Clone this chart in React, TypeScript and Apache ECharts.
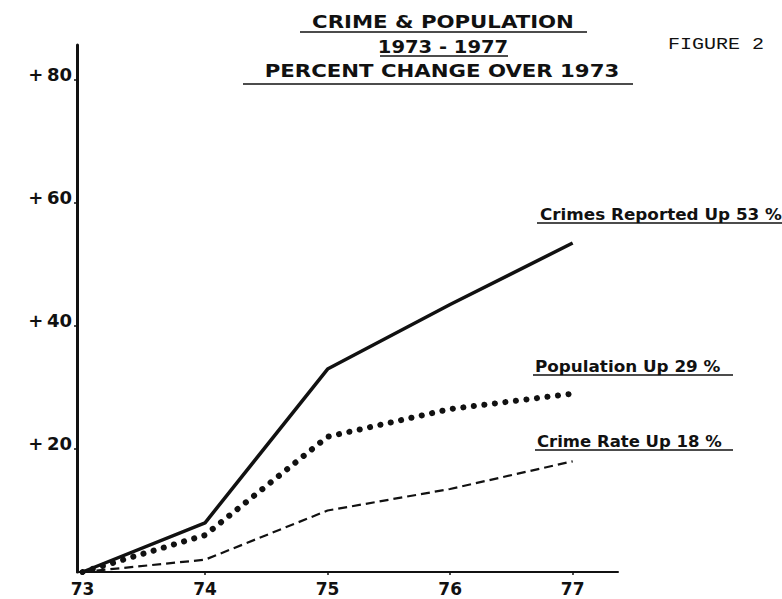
import React, { useEffect, useRef } from "react";
import * as echarts from "echarts";

const years = [73, 74, 75, 76, 77];
const crimesReported = [0, 8, 33, 43.5, 53.5];
const population = [0, 6, 22, 26.5, 29];
const crimeRate = [0, 2, 10, 13.5, 18];
const yTickValues = [20, 40, 60, 80];
const titleLines = ["CRIME & POPULATION", "1973 - 1977", "PERCENT CHANGE OVER 1973"];
const figureLabel = "FIGURE 2";
const seriesNames = ["Crimes Reported", "Population", "Crime Rate"];
const seriesNotes = ["Crimes Reported Up 53 %", "Population Up 29 %", "Crime Rate Up 18 %"];

const INK = "#111";

export default function App() {
  const ref = useRef<HTMLDivElement>(null);
  useEffect(() => {
    if (!ref.current) return;
    const chart = echarts.init(ref.current, null, { renderer: "svg" });
    const pair = (vals: number[]) => years.map((y, i) => [y, vals[i]]);
    const titleFont = { fontFamily: "DejaVu Sans", fontWeight: "bold", fontSize: 17, fill: INK };
    const noteFont = { fontFamily: "DejaVu Sans", fontWeight: "bold", fontSize: 15, fill: INK };
    const uline = (x1: number, x2: number, y: number, w = 1.5) => ({
      type: "line",
      shape: { x1, y1: y, x2, y2: y },
      style: { stroke: INK, lineWidth: w },
      silent: true,
    });
    chart.setOption({
      animation: false,
      backgroundColor: "#fff",
      grid: { left: 77, right: 164, top: 45, bottom: 27, containLabel: false },
      xAxis: {
        type: "value",
        min: 72.955,
        max: 77.37,
        offset: 2,
        axisLine: { show: true, lineStyle: { color: INK, width: 2 } },
        axisTick: { show: true, customValues: years, length: 3, lineStyle: { color: INK, width: 1.5 } },
        axisLabel: {
          customValues: years,
          color: INK,
          fontFamily: "DejaVu Sans",
          fontWeight: "bold",
          fontSize: 17,
          margin: 6,
        },
        splitLine: { show: false },
      },
      yAxis: {
        type: "value",
        min: 0,
        max: 85.7,
        axisLine: { show: true, lineStyle: { color: INK, width: 3 } },
        axisTick: { show: true, customValues: yTickValues, length: 3, lineStyle: { color: INK, width: 1.5 } },
        axisLabel: {
          customValues: yTickValues,
          formatter: (v: number) => "+\u2009" + v,
          color: INK,
          fontFamily: "DejaVu Sans",
          fontWeight: "bold",
          fontSize: 18,
          margin: 5,
          verticalAlign: "bottom",
          lineHeight: 12,
        },
        splitLine: { show: false },
      },
      series: [
        {
          name: seriesNames[0],
          type: "line",
          data: pair(crimesReported),
          symbol: "none",
          lineStyle: { color: INK, width: 3.5 },
        },
        {
          name: seriesNames[1],
          type: "line",
          data: pair(population),
          symbol: "none",
          lineStyle: { color: INK, width: 6, type: [0.1, 10.5], cap: "round" },
        },
        {
          name: seriesNames[2],
          type: "line",
          data: pair(crimeRate),
          symbol: "none",
          lineStyle: { color: INK, width: 2.2, type: [9, 5] },
        },
      ],
      graphic: [
        {
          type: "text",
          x: 443,
          y: 22,
          scaleX: 1.25,
          style: { ...titleFont, text: titleLines[0], align: "center", verticalAlign: "middle" },
        },
        uline(300, 587, 32),
        {
          type: "text",
          x: 443,
          y: 47,
          scaleX: 1.15,
          style: { ...titleFont, text: titleLines[1], align: "center", verticalAlign: "middle" },
        },
        uline(380, 508, 56),
        {
          type: "text",
          x: 442,
          y: 71,
          scaleX: 1.25,
          style: { ...titleFont, text: titleLines[2], align: "center", verticalAlign: "middle" },
        },
        uline(243, 633, 84),
        {
          type: "text",
          x: 668,
          y: 45,
          scaleX: 1.25,
          style: {
            text: figureLabel,
            fontFamily: "Liberation Mono",
            fontSize: 16,
            fill: INK,
            align: "left",
            verticalAlign: "middle",
          },
        },
        {
          type: "text",
          x: 540,
          y: 215,
          scaleX: 1.12,
          style: { ...noteFont, text: seriesNotes[0], align: "left", verticalAlign: "middle" },
        },
        uline(537, 782, 223),
        {
          type: "text",
          x: 535,
          y: 367,
          scaleX: 1.12,
          style: { ...noteFont, text: seriesNotes[1], align: "left", verticalAlign: "middle" },
        },
        uline(533, 733, 375),
        {
          type: "text",
          x: 537,
          y: 442,
          scaleX: 1.1,
          style: { ...noteFont, text: seriesNotes[2], align: "left", verticalAlign: "middle" },
        },
        uline(535, 733, 450),
      ],
    });
    return () => chart.dispose();
  }, []);
  return (
    <div
      ref={ref}
      style={{ position: "fixed", left: 0, top: 0, width: 782, height: 599, background: "#fff" }}
    />
  );
}
